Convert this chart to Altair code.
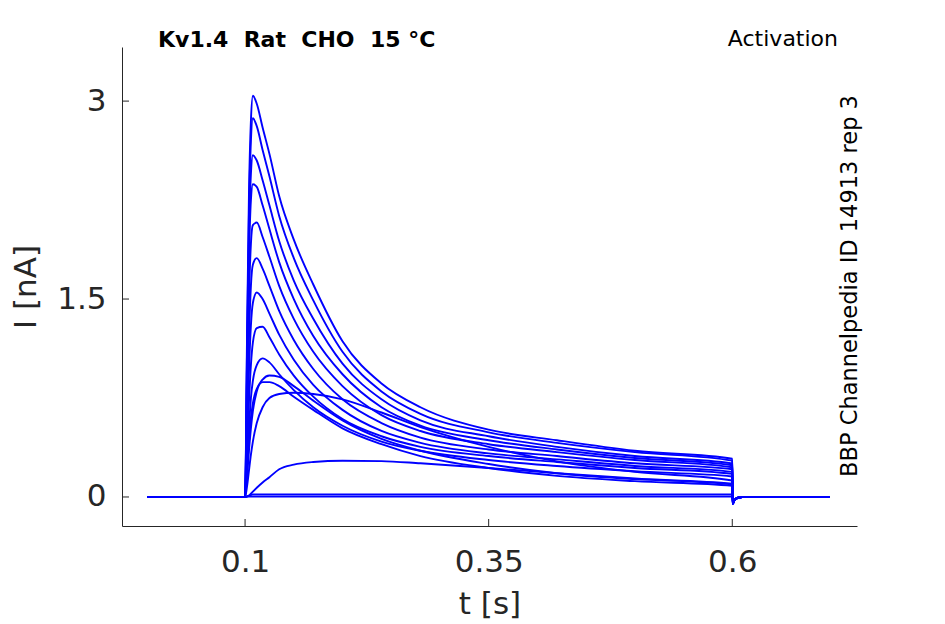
import altair as alt
import pandas as pd

# ---- data ----
TIME_S = [0.000, 0.100, 0.102, 0.104, 0.106, 0.108, 0.112, 0.118, 0.125, 0.135,
          0.150, 0.170, 0.200, 0.240, 0.280, 0.350, 0.420, 0.500, 0.600,
          0.6005, 0.603, 0.610, 0.700]

TRACE_01 = [0, 0, 1.20, 2.30, 2.85, 3.04, 2.98, 2.80, 2.60, 2.28, 1.95, 1.61, 1.18, 0.86, 0.68, 0.51, 0.43, 0.35, 0.290, -0.05, -0.015, 0, 0]
TRACE_02 = [0, 0, 1.10, 2.15, 2.70, 2.87, 2.81, 2.63, 2.43, 2.13, 1.81, 1.49, 1.10, 0.80, 0.63, 0.49, 0.41, 0.34, 0.275, -0.05, -0.015, 0, 0]
TRACE_03 = [0, 0, 1.00, 1.95, 2.45, 2.59, 2.55, 2.40, 2.21, 1.94, 1.64, 1.35, 1.01, 0.74, 0.58, 0.46, 0.38, 0.31, 0.255, -0.05, -0.015, 0, 0]
TRACE_04 = [0, 0, 0.90, 1.80, 2.25, 2.37, 2.35, 2.21, 2.03, 1.78, 1.50, 1.22, 0.93, 0.68, 0.54, 0.43, 0.36, 0.295, 0.240, -0.05, -0.015, 0, 0]
TRACE_05 = [0, 0, 0.75, 1.50, 1.92, 2.06, 2.08, 1.97, 1.82, 1.60, 1.35, 1.10, 0.84, 0.62, 0.50, 0.40, 0.34, 0.28, 0.225, -0.05, -0.015, 0, 0]
TRACE_06 = [0, 0, 0.60, 1.20, 1.60, 1.76, 1.81, 1.73, 1.60, 1.41, 1.19, 0.97, 0.74, 0.56, 0.45, 0.36, 0.31, 0.255, 0.210, -0.05, -0.015, 0, 0]
TRACE_07 = [0, 0, 0.45, 0.95, 1.30, 1.47, 1.55, 1.50, 1.39, 1.23, 1.04, 0.85, 0.66, 0.50, 0.41, 0.33, 0.285, 0.235, 0.190, -0.05, -0.015, 0, 0]
TRACE_08 = [0, 0, 0.35, 0.72, 1.00, 1.17, 1.28, 1.29, 1.21, 1.08, 0.92, 0.76, 0.59, 0.46, 0.38, 0.31, 0.265, 0.22, 0.175, -0.05, -0.015, 0, 0]
TRACE_09 = [0, 0, 0.25, 0.52, 0.75, 0.88, 1.00, 1.05, 1.02, 0.93, 0.81, 0.68, 0.54, 0.42, 0.35, 0.28, 0.235, 0.195, 0.155, -0.05, -0.015, 0, 0]
TRACE_10 = [0, 0, 0.15, 0.35, 0.52, 0.65, 0.80, 0.89, 0.92, 0.91, 0.84, 0.73, 0.58, 0.44, 0.35, 0.25, 0.18, 0.135, 0.095, -0.05, -0.015, 0, 0]
TRACE_11 = [0, 0, 0.20, 0.42, 0.60, 0.71, 0.82, 0.87, 0.87, 0.84, 0.76, 0.66, 0.52, 0.40, 0.31, 0.22, 0.16, 0.12, 0.085, -0.05, -0.015, 0, 0]
TRACE_12 = [0, 0, 0.08, 0.20, 0.32, 0.42, 0.56, 0.68, 0.75, 0.78, 0.79, 0.78, 0.74, 0.64, 0.53, 0.38, 0.27, 0.19, 0.125, -0.05, -0.015, 0, 0]
TRACE_13 = [0, 0, 0.003, 0.01, 0.025, 0.04, 0.07, 0.11, 0.15, 0.21, 0.245, 0.265, 0.275, 0.272, 0.255, 0.22, 0.18, 0.14, 0.100, -0.05, -0.015, 0, 0]
TRACE_14 = [0, 0, 0.005, 0.01, 0.015, 0.02, 0.02, 0.02, 0.02, 0.02, 0.02, 0.02, 0.02, 0.02, 0.02, 0.02, 0.02, 0.02, 0.020, -0.05, -0.015, 0, 0]
TRACE_15 = [0, 0, 0.003, 0.003, 0.003, 0.003, 0.003, 0.003, 0.003, 0.003, 0.003, 0.003, 0.003, 0.003, 0.003, 0.003, 0.003, 0.003, 0.003, -0.05, -0.015, 0, 0]

TRACES = [TRACE_01, TRACE_02, TRACE_03, TRACE_04, TRACE_05, TRACE_06, TRACE_07, TRACE_08,
          TRACE_09, TRACE_10, TRACE_11, TRACE_12, TRACE_13, TRACE_14, TRACE_15]

X_TICKS = [0.1, 0.35, 0.6]
Y_TICKS = [0, 1.5, 3]
X_DOMAIN = [-0.0263, 0.728]
Y_DOMAIN = [-0.22, 3.41]

TITLE_LEFT = "Kv1.4\u00a0\u00a0Rat\u00a0\u00a0CHO\u00a0\u00a015\u00a0°C"
TITLE_RIGHT = "Activation"
SIDE_LABEL = "BBP Channelpedia ID 14913 rep 3"

rows = []
for k, tr in enumerate(TRACES):
    for t, v in zip(TIME_S, tr):
        rows.append({"trace": k, "t": t, "I": v})
df = pd.DataFrame(rows)

FONT = "DejaVu Sans"
AX = "#262626"

xscale = alt.Scale(domain=X_DOMAIN, nice=False, zero=False)
yscale = alt.Scale(domain=Y_DOMAIN, nice=False, zero=False)

x_axis = alt.Axis(values=X_TICKS, format=".3~g", title="t [s]", grid=False,
                  ticks=False, tickSize=0, labelPadding=21, titlePadding=12,
                  labelFont=FONT, labelFontSize=31, labelColor=AX,
                  titleFont=FONT, titleFontSize=31, titleFontWeight="normal", titleColor=AX,
                  domainColor=AX, domainWidth=1)
y_axis = alt.Axis(values=Y_TICKS, format=".3~g", title="I [nA]", grid=False,
                  ticks=False, tickSize=0, labelPadding=16, titlePadding=14,
                  labelFont=FONT, labelFontSize=31, labelColor=AX,
                  titleFont=FONT, titleFontSize=31, titleFontWeight="normal", titleColor=AX,
                  domainColor=AX, domainWidth=1)

lines = alt.Chart(df).mark_line(color="#0000ff", strokeWidth=1.9, interpolate="monotone").encode(
    x=alt.X("t:Q", scale=xscale, axis=x_axis),
    y=alt.Y("I:Q", scale=yscale, axis=y_axis),
    detail="trace:N",
)

xticks = alt.Chart(pd.DataFrame({"t": X_TICKS})).mark_rule(color=AX, strokeWidth=1).encode(
    x=alt.X("t:Q", scale=xscale, axis=x_axis),
    y=alt.value(479), y2=alt.value(472),
)
yticks = alt.Chart(pd.DataFrame({"I": Y_TICKS})).mark_rule(color=AX, strokeWidth=1).encode(
    y=alt.Y("I:Q", scale=yscale, axis=y_axis),
    x=alt.value(0), x2=alt.value(7),
)

title_l = alt.Chart(pd.DataFrame({"label": [TITLE_LEFT]})).mark_text(
    font=FONT, fontSize=22, fontWeight="bold", align="left", baseline="alphabetic", color="#000000"
).encode(text="label:N", x=alt.value(36), y=alt.value(0))

title_r = alt.Chart(pd.DataFrame({"label": [TITLE_RIGHT]})).mark_text(
    font=FONT, fontSize=22, align="right", baseline="alphabetic", color="#000000"
).encode(text="label:N", x=alt.value(716), y=alt.value(-1))

side = alt.Chart(pd.DataFrame({"label": [SIDE_LABEL]})).mark_text(
    font=FONT, fontSize=22.5, align="center", baseline="alphabetic", angle=270, color="#000000"
).encode(text="label:N", x=alt.value(735), y=alt.value(239))

chart = alt.layer(lines, xticks, yticks, title_l, title_r, side).properties(
    width=735, height=479,
    padding={"left": 114, "top": 39, "right": 80, "bottom": 98},
    autosize=alt.AutoSizeParams(type="none"),
    background="#ffffff",
).configure_view(stroke=None)

chart.save("out.html", embed_options={"renderer": "svg", "actions": False})
